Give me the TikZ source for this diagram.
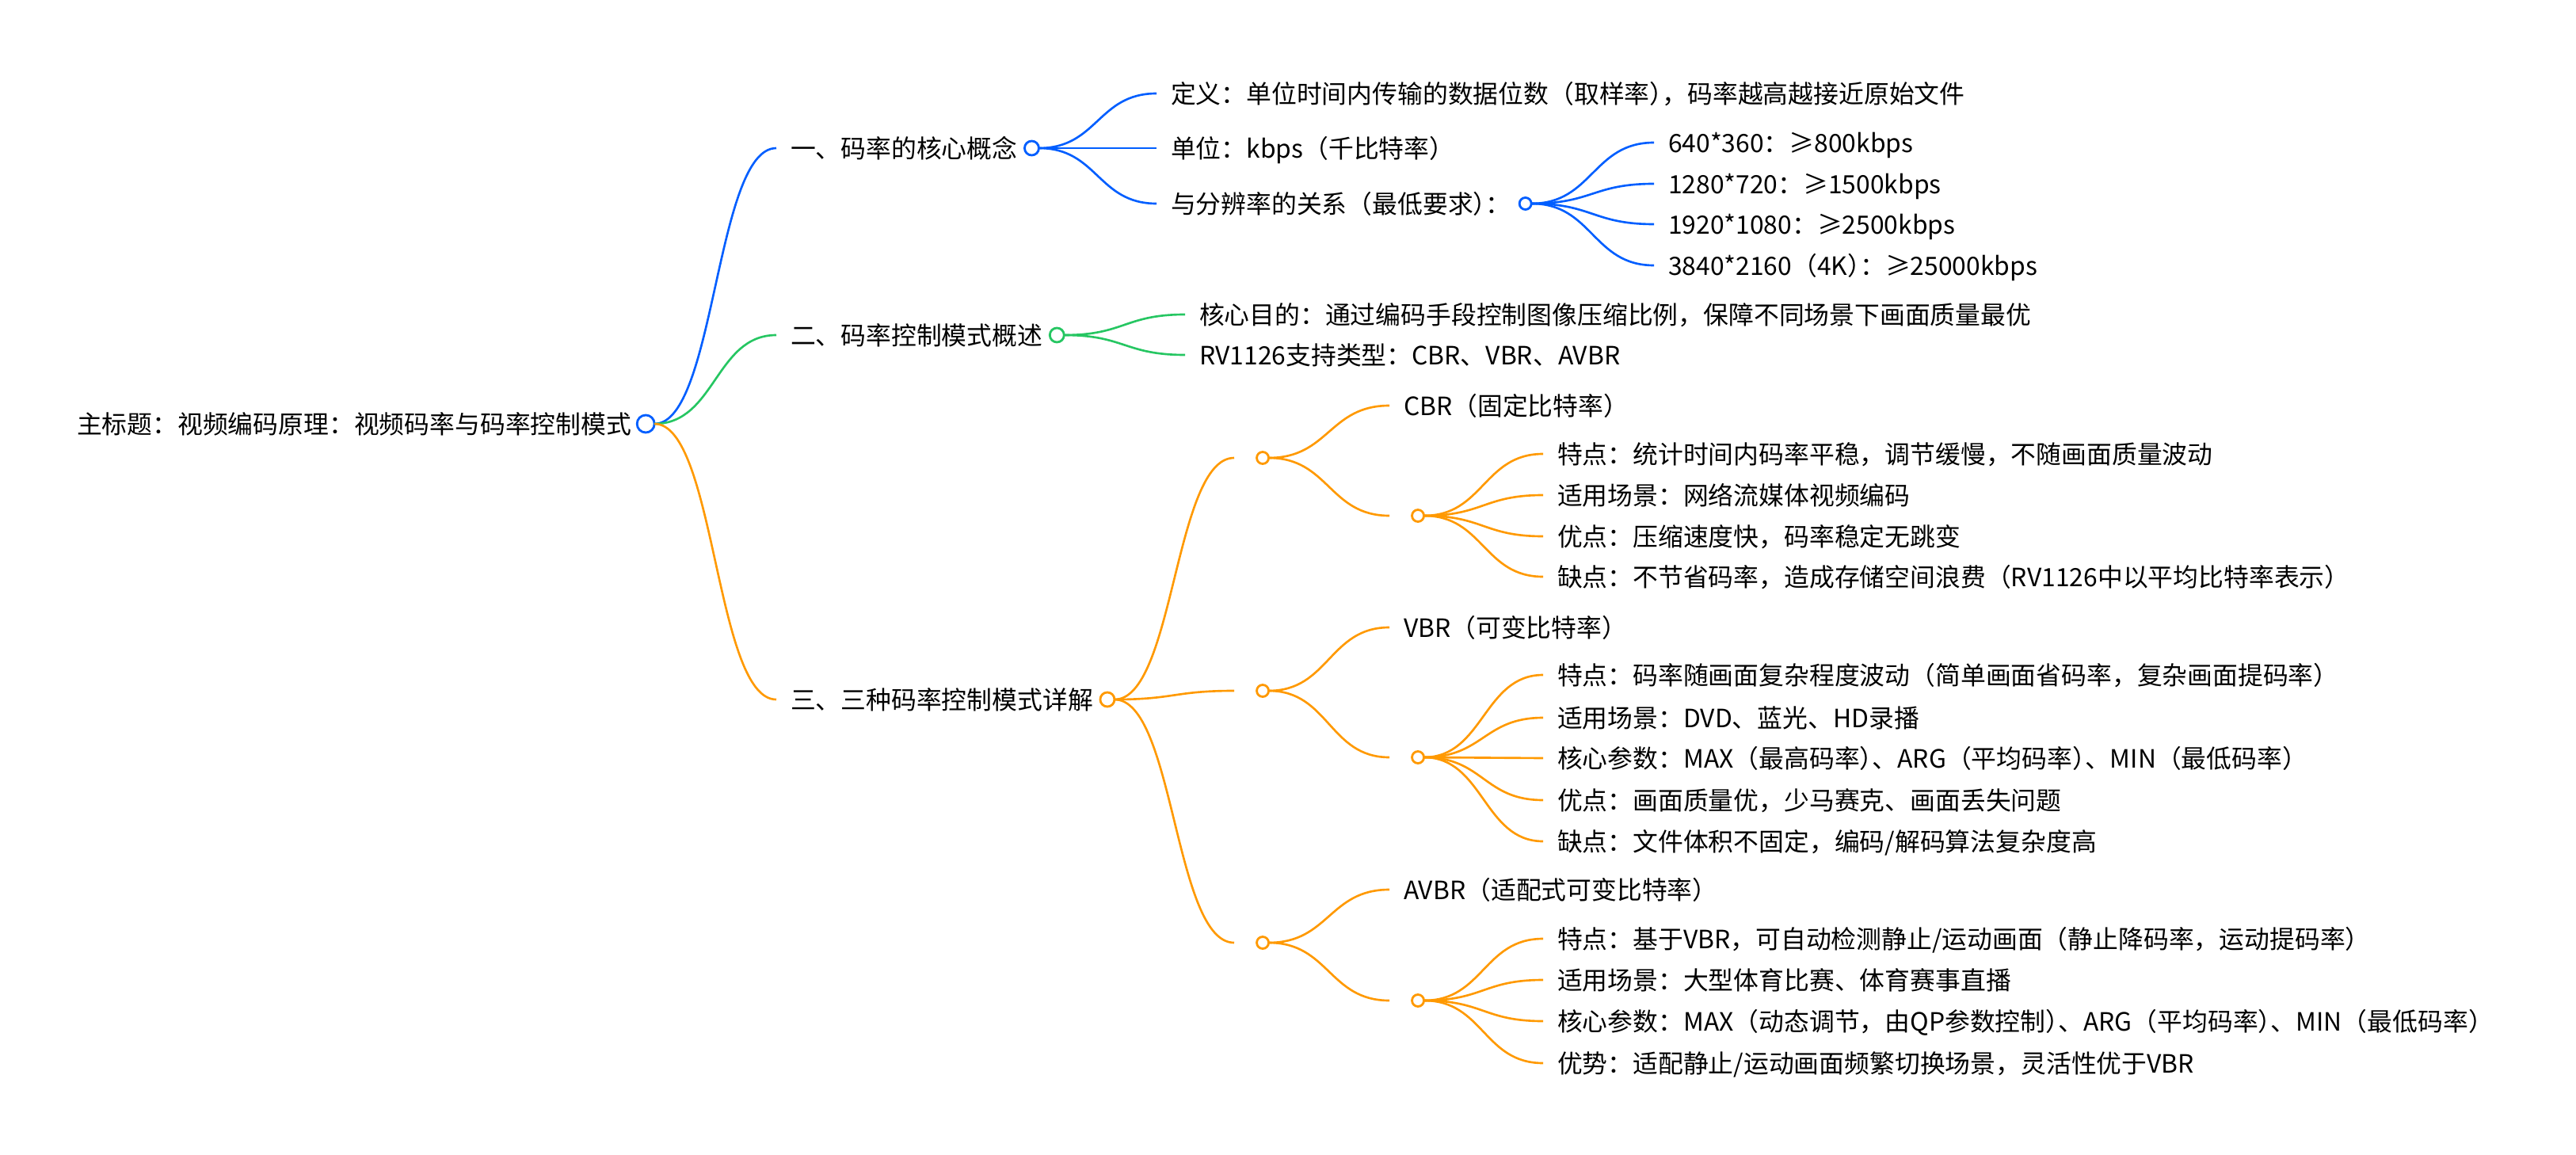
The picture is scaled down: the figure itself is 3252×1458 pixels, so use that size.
\documentclass[tikz,border=0pt]{standalone}
\usepackage{fontspec}
\setmainfont{Noto Sans CJK SC}
\usetikzlibrary{calc}
\definecolor{cblue}{RGB}{0,94,255}
\definecolor{cgreen}{RGB}{38,198,98}
\definecolor{corange}{RGB}{255,153,0}
\newcommand{\hk}{\kern-0.5em}
\newcommand{\mmlink}[3]{\draw[#1] let \p1=(#2.east), \p2=(#3.west) in (\p1) .. controls ({(\x1+\x2)/2},\y1) and ({(\x1+\x2)/2},\y2) .. (\p2);}
\begin{document}
\begin{tikzpicture}[x=0.01cm,y=-0.01cm,
  txt/.style={anchor=west, inner xsep=0.18cm, inner ysep=0pt, outer sep=0pt,
    text height=0.28cm, text depth=0.038cm,
    font=\fontsize{9.05pt}{11pt}\selectfont, text=black},
  dot/.style={circle, draw=#1, fill=white, line width=0.8pt, inner sep=0pt, outer sep=0pt},
  dotA/.style={dot=#1, minimum size=0.22cm},
  dotB/.style={dot=#1, minimum size=0.18cm},
  dotC/.style={dot=#1, minimum size=0.15cm},
  lk/.style={draw=#1, line width=0.75pt},
]
\useasboundingbox (0,0) rectangle (3252,1458);

% root
\node[txt] (r) at (79,535) {主标题：视频编码原理：视频码率与码率控制模式};
\node[dotA=cblue] (rc) at (r.east) {};

% level 1
\node[txt] (a) at (980,187) {一、码率的核心概念};
\node[dotB=cblue] (ac) at (a.east) {};
\node[txt] (b) at (980,423) {二、码率控制模式概述};
\node[dotB=cgreen] (bc) at (b.east) {};
\node[txt] (c) at (980,883) {三、三种码率控制模式详解};
\node[dotB=corange] (cc) at (c.east) {};
\mmlink{lk=cblue}{rc}{a}
\mmlink{lk=cgreen}{rc}{b}
\mmlink{lk=corange}{rc}{c}

% branch 1
\node[txt] (a1) at (1460,118) {定义：单位时间内传输的数据位数（取样率）\hk，码率越高越接近原始文件};
\node[txt] (a2) at (1460,187) {单位：kbps（千比特率）};
\node[txt] (a3) at (1460,257) {与分辨率的关系（最低要求）\hk：};
\node[dotC=cblue] (a3c) at (a3.east) {};
\mmlink{lk=cblue}{ac}{a1}
\mmlink{lk=cblue}{ac}{a2}
\mmlink{lk=cblue}{ac}{a3}
\node[txt] (a31) at (2088,180) {640*360：≥800kbps};
\node[txt] (a32) at (2088,232) {1280*720：≥1500kbps};
\node[txt] (a33) at (2088,283) {1920*1080：≥2500kbps};
\node[txt] (a34) at (2088,335) {3840*2160（4K）\hk：≥25000kbps};
\mmlink{lk=cblue}{a3c}{a31}
\mmlink{lk=cblue}{a3c}{a32}
\mmlink{lk=cblue}{a3c}{a33}
\mmlink{lk=cblue}{a3c}{a34}

% branch 2
\node[txt] (b1) at (1496,397) {核心目的：通过编码手段控制图像压缩比例，保障不同场景下画面质量最优};
\node[txt] (b2) at (1496,448) {RV1126支持类型：CBR、VBR、AVBR};
\mmlink{lk=cgreen}{bc}{b1}
\mmlink{lk=cgreen}{bc}{b2}

% branch 3
\node[txt] (c1) at (1558,578) {};
\node[dotC=corange] (c1c) at (c1.east) {};
\node[txt] (c2) at (1558,872) {};
\node[dotC=corange] (c2c) at (c2.east) {};
\node[txt] (c3) at (1558,1190) {};
\node[dotC=corange] (c3c) at (c3.east) {};
\mmlink{lk=corange}{cc}{c1}
\mmlink{lk=corange}{cc}{c2}
\mmlink{lk=corange}{cc}{c3}

% CBR
\node[txt] (c1a) at (1754,512) {CBR（固定比特率）};
\node[txt] (c1b) at (1754,651) {};
\node[dotC=corange] (c1bc) at (c1b.east) {};
\mmlink{lk=corange}{c1c}{c1a}
\mmlink{lk=corange}{c1c}{c1b}
\node[txt] (c1b1) at (1948,573) {特点：统计时间内码率平稳，调节缓慢，不随画面质量波动};
\node[txt] (c1b2) at (1948,625) {适用场景：网络流媒体视频编码};
\node[txt] (c1b3) at (1948,677) {优点：压缩速度快，码率稳定无跳变};
\node[txt] (c1b4) at (1948,728) {缺点：不节省码率，造成存储空间浪费（RV1126中以平均比特率表示）};
\mmlink{lk=corange}{c1bc}{c1b1}
\mmlink{lk=corange}{c1bc}{c1b2}
\mmlink{lk=corange}{c1bc}{c1b3}
\mmlink{lk=corange}{c1bc}{c1b4}

% VBR
\node[txt] (c2a) at (1754,792) {VBR（可变比特率）};
\node[txt] (c2b) at (1754,956) {};
\node[dotC=corange] (c2bc) at (c2b.east) {};
\mmlink{lk=corange}{c2c}{c2a}
\mmlink{lk=corange}{c2c}{c2b}
\node[txt] (c2b1) at (1948,852) {特点：码率随画面复杂程度波动（简单画面省码率，复杂画面提码率）};
\node[txt] (c2b2) at (1948,906) {适用场景：DVD、蓝光、HD录播};
\node[txt] (c2b3) at (1948,957) {核心参数：MAX（最高码率）\hk、ARG（平均码率）\hk、MIN（最低码率）};
\node[txt] (c2b4) at (1948,1010) {优点：画面质量优，少马赛克、画面丢失问题};
\node[txt] (c2b5) at (1948,1062) {缺点：文件体积不固定，编码/解码算法复杂度高};
\mmlink{lk=corange}{c2bc}{c2b1}
\mmlink{lk=corange}{c2bc}{c2b2}
\mmlink{lk=corange}{c2bc}{c2b3}
\mmlink{lk=corange}{c2bc}{c2b4}
\mmlink{lk=corange}{c2bc}{c2b5}

% AVBR
\node[txt] (c3a) at (1754,1123) {AVBR（适配式可变比特率）};
\node[txt] (c3b) at (1754,1263) {};
\node[dotC=corange] (c3bc) at (c3b.east) {};
\mmlink{lk=corange}{c3c}{c3a}
\mmlink{lk=corange}{c3c}{c3b}
\node[txt] (c3b1) at (1948,1185) {特点：基于VBR，可自动检测静止/运动画面（静止降码率，运动提码率）};
\node[txt] (c3b2) at (1948,1237) {适用场景：大型体育比赛、体育赛事直播};
\node[txt] (c3b3) at (1948,1289) {核心参数：MAX（动态调节，由QP参数控制）\hk、ARG（平均码率）\hk、MIN（最低码率）};
\node[txt] (c3b4) at (1948,1342) {优势：适配静止/运动画面频繁切换场景，灵活性优于VBR};
\mmlink{lk=corange}{c3bc}{c3b1}
\mmlink{lk=corange}{c3bc}{c3b2}
\mmlink{lk=corange}{c3bc}{c3b3}
\mmlink{lk=corange}{c3bc}{c3b4}
\end{tikzpicture}
\end{document}
